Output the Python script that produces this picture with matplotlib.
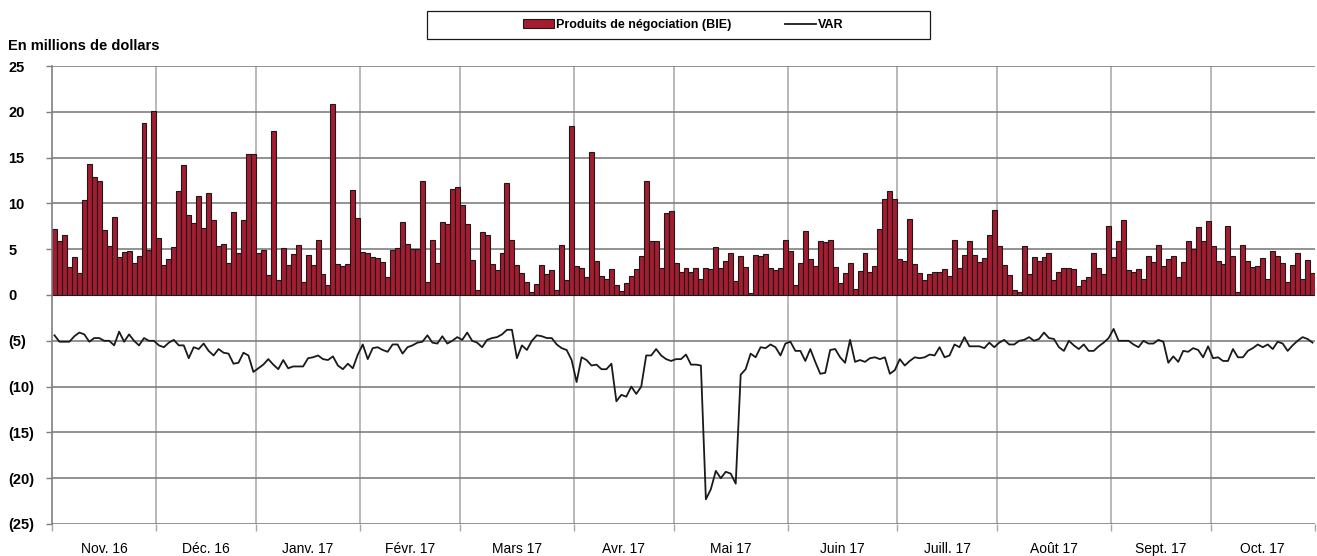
import matplotlib
matplotlib.use("Agg")
import matplotlib.pyplot as plt
import numpy as np
from matplotlib.lines import Line2D
from matplotlib.patches import Patch, Rectangle

plt.rcParams["font.family"] = ["Liberation Sans", "DejaVu Sans"]

months = ["Nov. 16", "Déc. 16", "Janv. 17", "Févr. 17", "Mars 17", "Avr. 17",
          "Mai 17", "Juin 17", "Juill. 17", "Août 17", "Sept. 17", "Oct. 17"]
days_per_month = [21, 20, 21, 20, 23, 20, 23, 22, 20, 23, 20, 21]

# daily trading revenue (TEB), one row per month
revenue = [
    7.2, 5.9, 6.6, 3.1, 4.2, 2.4, 10.4, 14.3, 12.9, 12.5, 7.1, 5.4, 8.5, 4.1, 4.7, 4.8, 3.5, 4.3, 18.8, 4.9, 20.1,
    6.2, 3.3, 3.9, 5.2, 11.4, 14.2, 8.7, 7.9, 10.8, 7.3, 11.1, 8.2, 5.4, 5.6, 3.5, 9.1, 4.6, 8.2, 15.4, 15.4,
    4.6, 4.9, 2.2, 17.9, 1.6, 5.1, 3.3, 4.5, 5.5, 1.4, 4.4, 3.3, 6.0, 2.3, 1.1, 20.8, 3.4, 3.2, 3.4, 11.5, 8.4,
    4.7, 4.6, 4.2, 4.0, 3.6, 2.0, 4.9, 5.1, 8.0, 5.6, 5.0, 5.0, 12.4, 1.4, 6.0, 3.5, 8.0, 7.7, 11.6, 11.8,
    9.8, 7.8, 3.8, 0.6, 6.9, 6.6, 3.4, 2.7, 4.6, 12.2, 6.0, 3.3, 2.4, 1.4, 0.3, 1.2, 3.3, 2.3, 2.7, 0.5, 5.5, 1.6, 18.5,
    3.2, 3.0, 2.0, 15.6, 3.7, 2.1, 1.7, 2.8, 1.1, 0.4, 1.3, 2.1, 2.8, 4.3, 12.4, 5.9, 5.9, 2.9, 8.9, 9.2,
    3.5, 2.5, 3.0, 2.5, 3.0, 1.8, 2.9, 2.8, 5.2, 2.9, 3.7, 4.6, 1.5, 4.3, 3.1, 0.2, 4.4, 4.3, 4.5, 3.0, 2.7, 3.0, 6.0,
    4.8, 1.1, 3.5, 7.0, 3.9, 3.2, 5.9, 5.8, 6.0, 3.1, 1.3, 2.4, 3.5, 0.7, 2.6, 4.6, 2.5, 3.2, 7.2, 10.5, 11.4, 10.5,
    3.9, 3.7, 8.3, 3.4, 2.4, 1.6, 2.3, 2.5, 2.5, 2.8, 2.1, 6.0, 3.0, 4.4, 5.9, 4.4, 3.6, 4.0, 6.6, 9.3,
    5.4, 3.3, 2.2, 0.5, 0.3, 5.3, 2.3, 4.2, 3.7, 4.2, 4.6, 1.6, 2.5, 3.0, 2.9, 2.8, 1.0, 1.6, 2.0, 4.6, 2.9, 2.3, 7.5,
    4.1, 5.9, 8.2, 2.7, 2.5, 2.8, 1.8, 4.3, 3.6, 5.5, 3.2, 3.9, 4.3, 2.0, 3.6, 5.9, 5.0, 7.4, 5.9, 8.1,
    5.3, 3.7, 3.4, 7.5, 4.3, 0.3, 5.5, 3.7, 3.1, 3.2, 4.0, 1.8, 4.8, 4.3, 3.5, 1.4, 3.3, 4.6, 1.8, 3.8, 2.4,
]

# daily value at risk, same layout
var = [
    -4.4, -5.1, -5.1, -5.1, -4.5, -4.1, -4.3, -5.1, -4.7, -4.7, -5.0, -5.0, -5.5, -4.0, -5.1, -4.3, -5.0, -5.5, -4.7, -5.0, -5.0,
    -5.5, -5.7, -5.2, -4.9, -5.5, -5.5, -6.9, -5.7, -5.9, -5.3, -6.1, -6.6, -5.9, -6.3, -6.4, -7.5, -7.4, -6.3, -6.6, -8.4,
    -8.0, -7.6, -7.0, -7.6, -8.1, -7.1, -8.0, -7.8, -7.8, -7.8, -6.9, -6.8, -6.6, -7.0, -7.1, -6.7, -7.7, -8.1, -7.5, -8.0, -6.5,
    -5.4, -7.0, -5.8, -5.7, -6.0, -6.2, -5.4, -5.4, -6.4, -5.7, -5.5, -5.2, -5.1, -4.4, -5.2, -5.3, -4.5, -5.3, -5.0, -4.6,
    -4.9, -4.1, -5.0, -5.2, -5.7, -4.9, -4.7, -4.6, -4.3, -3.8, -3.8, -6.9, -5.5, -6.0, -5.0, -4.4, -4.5, -4.7, -4.7, -5.4, -5.8, -6.0, -7.1,
    -9.5, -6.8, -7.1, -7.7, -7.6, -8.1, -8.1, -7.5, -11.6, -10.9, -11.1, -10.0, -10.8, -10.0, -6.6, -6.6, -5.9, -6.6, -7.0, -7.2,
    -7.0, -7.0, -6.5, -7.6, -7.6, -7.7, -22.3, -21.2, -19.2, -20.0, -19.3, -19.5, -20.6, -8.7, -8.1, -6.4, -6.8, -5.7, -5.8, -5.4, -5.7, -6.6, -5.3,
    -5.1, -6.1, -6.1, -7.2, -5.9, -7.3, -8.6, -8.5, -6.0, -5.9, -6.8, -7.4, -4.9, -7.3, -7.1, -7.3, -6.9, -6.8, -7.0, -6.8, -8.6, -8.2,
    -7.0, -7.7, -7.2, -6.8, -6.9, -6.8, -6.5, -6.6, -5.7, -6.8, -6.6, -5.4, -5.7, -4.6, -5.6, -5.6, -5.6, -5.8, -5.2, -5.7,
    -5.2, -4.9, -5.4, -5.4, -5.0, -4.9, -4.6, -5.0, -4.8, -4.1, -4.7, -4.8, -5.7, -6.1, -5.0, -5.5, -5.9, -5.4, -6.1, -6.1, -5.6, -5.2, -4.7,
    -3.7, -5.0, -5.0, -5.0, -5.4, -5.7, -5.0, -5.3, -5.3, -4.9, -5.1, -7.4, -6.7, -7.3, -6.1, -6.2, -5.8, -6.0, -6.8, -5.6,
    -6.9, -6.8, -7.2, -7.2, -5.9, -6.8, -6.8, -6.1, -5.8, -5.4, -5.7, -5.4, -5.9, -5.1, -5.3, -6.1, -5.5, -5.0, -4.6, -4.8, -5.2,
]

y_ticks = [25, 20, 15, 10, 5, 0, -5, -10, -15, -20, -25]
y_labels = ["25", "20", "15", "10", "5", "0", "(5)", "(10)", "(15)", "(20)", "(25)"]

BAR_RED = "#a51c30"
GRID_DARK = "#7f7f7f"
GRID_LIGHT = "#a6a6a6"

W, H = 1317, 556
fig = plt.figure(figsize=(W / 100, H / 100), dpi=100)
ax = fig.add_axes([52 / W, 1 - 524 / H, (1315 - 52) / W, (524 - 66) / H])

x = np.arange(len(revenue))
ax.bar(x, revenue, width=1.0, color=BAR_RED, edgecolor="#1a1a1a", linewidth=0.8, zorder=2)
ax.plot(x, var, color="#1a1a1a", linewidth=1.3, zorder=3)

ax.set_xlim(-0.5, len(revenue) - 0.5)
ax.set_ylim(-25, 25)

# month boundaries as major ticks, month names centred between them
bounds = np.concatenate([[0], np.cumsum(days_per_month)]) - 0.5
centers = (bounds[:-1] + bounds[1:]) / 2
ax.set_xticks(bounds)
ax.set_xticklabels([])
ax.set_xticks(centers, minor=True)
ax.set_xticklabels(months, minor=True, fontsize=10)
ax.tick_params(axis="x", which="major", length=5, color=GRID_LIGHT, width=1)
ax.tick_params(axis="x", which="minor", length=0, pad=13)
for b in bounds[1:-1]:
    ax.axvline(b, color=GRID_LIGHT, linewidth=1.1, zorder=1)

ax.set_yticks(y_ticks)
ax.set_yticklabels(y_labels, fontsize=10.5, fontweight="bold", ha="left")
ax.tick_params(axis="y", length=4, color=GRID_DARK, width=1, pad=27.5)
for yv in y_ticks:
    ax.axhline(yv, color=GRID_DARK, linewidth=1.2, zorder=1)

for side in ["top", "right", "bottom"]:
    ax.spines[side].set_visible(False)
ax.spines["left"].set_color(GRID_DARK)
ax.spines["left"].set_linewidth(1.2)

fig.text(8 / W, 1 - 46 / H, "En millions de dollars", fontsize=10.5,
         fontweight="bold", va="center", ha="left")

# legend box
fig.patches.append(Rectangle((427 / W, 1 - 39 / H), (930 - 427) / W, 28 / H,
                             transform=fig.transFigure, fill=False,
                             edgecolor="#1a1a1a", linewidth=0.9))
handles = [Patch(facecolor=BAR_RED, edgecolor="#1a1a1a", linewidth=0.8),
           Line2D([], [], color="#1a1a1a", linewidth=1.3)]
fig.legend(handles, ["Produits de négociation (BIE)", "VAR"],
           loc="center", bbox_to_anchor=(683 / W, 1 - 25 / H), ncol=2,
           frameon=False, prop={"weight": "bold", "size": 9},
           handlelength=2.5, handleheight=0.7, handletextpad=0.15,
           columnspacing=4.3)

fig.savefig("out.png", dpi=100)
